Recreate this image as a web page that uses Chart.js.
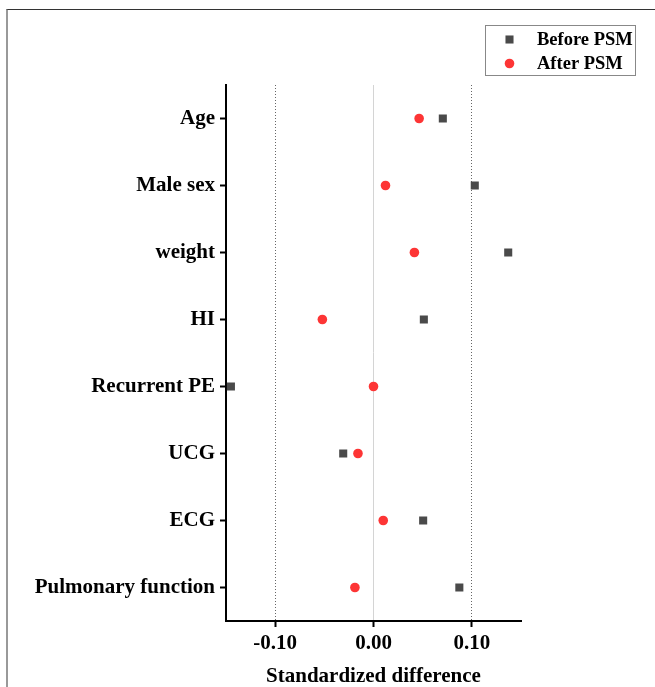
<!DOCTYPE html>
<html>
<head>
<meta charset="utf-8">
<script src="https://cdn.jsdelivr.net/npm/chart.js@4.4.1/dist/chart.umd.min.js"></script>
<style>
  html, body { margin: 0; padding: 0; background: #fff; }
  #wrap { position: relative; width: 655px; height: 687px; }
  #frame {
    position: absolute; left: 6px; top: 9px; right: 0; bottom: 0;
    border-top: 1px solid #333; border-left: 2px solid #999;
  }
  #chart { position: absolute; left: 0; top: 0; }
</style>
</head>
<body>
<div id="wrap">
  <div id="frame"></div>
  <canvas id="chart" width="655" height="687"></canvas>
</div>
<script>
var categories = ["Age", "Male sex", "weight", "HI", "Recurrent PE", "UCG", "ECG", "Pulmonary function"];
var beforePSM = [0.0705, 0.103, 0.137, 0.0512, -0.145, -0.0308, 0.0505, 0.0873];
var afterPSM = [0.0464, 0.0122, 0.0416, -0.052, 0.0, -0.0158, 0.0099, -0.0189];
var xTicks = [-0.10, 0.00, 0.10];
var seriesNames = ["Before PSM", "After PSM"];

var fontFamily = "'Liberation Serif', 'Times New Roman', serif";

function toPoints(values) {
  return values.map(function (v, i) {
    return { x: v, y: categories[i] };
  });
}

// legend box in the top right corner
var boxLegend = {
  id: "boxLegend",
  afterDraw: function (chart) {
    var ctx = chart.ctx;
    var left = 485.5, top = 25.5, w = 150, h = 50;
    ctx.save();
    ctx.strokeStyle = "#888";
    ctx.lineWidth = 1;
    ctx.strokeRect(left, top, w, h);
    chart.data.datasets.forEach(function (ds, i) {
      var y = top + 14 + i * 24;
      ctx.fillStyle = ds.backgroundColor;
      ctx.strokeStyle = ds.borderColor;
      ctx.lineWidth = 0;
      Chart.helpers.drawPoint(ctx, { pointStyle: ds.pointStyle, radius: ds.pointRadius, borderWidth: 0, rotation: 0 }, 509.5, y);
      ctx.fillStyle = "#000";
      ctx.font = "bold 18.5px " + fontFamily;
      ctx.textBaseline = "middle";
      ctx.textAlign = "left";
      ctx.fillText(ds.label, 537, y + 1);
    });
    ctx.restore();
  }
};

new Chart(document.getElementById("chart"), {
  type: "scatter",
  data: {
    datasets: [
      {
        label: seriesNames[0],
        data: toPoints(beforePSM),
        pointStyle: "rect",
        pointRadius: 5.7,
        pointHoverRadius: 5.7,
        pointBorderWidth: 0,
        backgroundColor: "#4a4a4a",
        borderColor: "#4a4a4a",
      },
      {
        label: seriesNames[1],
        data: toPoints(afterPSM),
        pointStyle: "circle",
        pointRadius: 4.8,
        pointHoverRadius: 4.8,
        pointBorderWidth: 0,
        backgroundColor: "#fd3535",
        borderColor: "#fd3535",
      },
    ],
  },
  options: {
    responsive: false,
    animation: false,
    layout: { padding: { top: 85, right: 134, bottom: 0, left: 0 } },
    plugins: {
      legend: { display: false },
      tooltip: { enabled: false },
    },
    scales: {
      x: {
        type: "linear",
        min: -0.15,
        max: 0.15,
        afterBuildTicks: function (scale) {
          scale.ticks = xTicks.map(function (v) { return { value: v }; });
        },
        afterFit: function (scale) { scale.height = 66; },
        grid: {
          color: function (c) {
            return c.tick && c.tick.value === 0 ? "#d4d4d4" : "#666";
          },
          lineWidth: 1,
          drawTicks: true,
          tickLength: 6,
          tickColor: "#000",
          tickWidth: 2,
          tickBorderDash: [],
        },
        border: {
          color: "#000",
          width: 2,
          dash: function (c) {
            return c.tick && c.tick.value === 0 ? [] : [1, 2];
          },
        },
        ticks: {
          color: "#000",
          padding: 4,
          font: { family: fontFamily, size: 21, weight: "bold" },
          callback: function (v) { return v.toFixed(2); },
        },
        title: {
          display: true,
          text: "Standardized difference",
          color: "#000",
          padding: { top: 0, bottom: -2 },
          font: { family: fontFamily, size: 21, weight: "bold" },
        },
      },
      y: {
        type: "category",
        labels: categories,
        offset: true,
        afterFit: function (scale) { scale.width = 226; },
        grid: {
          drawOnChartArea: false,
          drawTicks: true,
          tickLength: 6,
          tickColor: "#000",
          tickWidth: 2,
        },
        border: { color: "#000", width: 2 },
        ticks: {
          color: "#000",
          padding: 5,
          font: { family: fontFamily, size: 21, weight: "bold" },
        },
      },
    },
  },
  plugins: [boxLegend],
});
</script>
</body>
</html>
